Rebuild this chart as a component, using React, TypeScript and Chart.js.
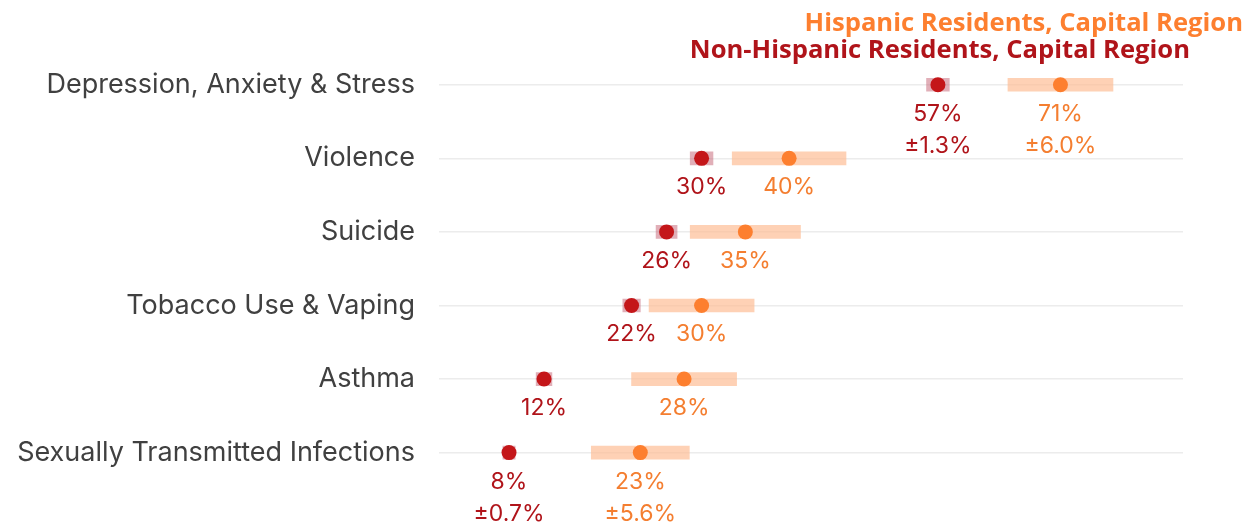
import React, { useEffect, useRef } from "react";
import { Chart, registerables } from "chart.js";

Chart.register(...registerables);

const categories = [
  "Depression, Anxiety & Stress",
  "Violence",
  "Suicide",
  "Tobacco Use & Vaping",
  "Asthma",
  "Sexually Transmitted Infections",
];
const hispanicValues = [71, 40, 35, 30, 28, 23];
const hispanicMargins = [6.0, 6.5, 6.3, 6.0, 6.0, 5.6];
const nonHispanicValues = [57, 30, 26, 22, 12, 8];
const nonHispanicMargins = [1.3, 1.3, 1.2, 1.0, 0.9, 0.7];
const showMarginLabel = [true, false, false, false, false, true];
const hispanicLabel = "Hispanic Residents, Capital Region";
const nonHispanicLabel = "Non-Hispanic Residents, Capital Region";

const ORANGE = "#fd7f2f";
const ORANGE_TEXT = "#f47e30";
const ORANGE_BAND = "rgba(253, 190, 150, 0.7)";
const RED = "#c41619";
const RED_TEXT = "#b0141a";
const RED_BAND = "rgba(200, 110, 125, 0.55)";
const FONT = "Inter, 'Noto Sans', sans-serif";

const labelPlugin = {
  id: "valueLabels",
  afterDatasetsDraw(chart: any) {
    const ctx = chart.ctx;
    ctx.save();
    ctx.textAlign = "center";
    ctx.textBaseline = "middle";
    ctx.font = `23px ${FONT}`;
    const defs = [
      { idx: 2, values: hispanicValues, margins: hispanicMargins, color: ORANGE_TEXT },
      { idx: 3, values: nonHispanicValues, margins: nonHispanicMargins, color: RED_TEXT },
    ];
    defs.forEach((d) => {
      const meta = chart.getDatasetMeta(d.idx);
      meta.data.forEach((pt: any, i: number) => {
        ctx.fillStyle = d.color;
        ctx.fillText(`${d.values[i]}%`, pt.x, pt.y + 29);
        if (showMarginLabel[i]) {
          ctx.fillText(`±${d.margins[i].toFixed(1)}%`, pt.x, pt.y + 61);
        }
      });
    });
    // legend text
    ctx.textAlign = "right";
    ctx.textBaseline = "alphabetic";
    ctx.font = `bold 25.6px 'Open Sans', 'Noto Sans', sans-serif`;
    ctx.fillStyle = ORANGE;
    ctx.fillText(hispanicLabel, 1243, 31);
    ctx.fillStyle = "#b0141a";
    ctx.fillText(nonHispanicLabel, 1190, 58);
    ctx.restore();
  },
};

export default function App() {
  const ref = useRef<HTMLCanvasElement | null>(null);
  useEffect(() => {
    document.body.style.margin = "0";
    const chart = new Chart(ref.current as HTMLCanvasElement, {
      type: "bar",
      data: {
        labels: categories,
        datasets: [
          {
            type: "bar",
            data: hispanicValues.map((v, i) => [v - hispanicMargins[i], v + hispanicMargins[i]]) as any,
            backgroundColor: ORANGE_BAND,
            barThickness: 13,
            grouped: false,
            order: 2,
          },
          {
            type: "bar",
            data: nonHispanicValues.map((v, i) => [v - nonHispanicMargins[i], v + nonHispanicMargins[i]]) as any,
            backgroundColor: RED_BAND,
            barThickness: 13,
            grouped: false,
            order: 2,
          },
          {
            type: "line",
            data: hispanicValues,
            showLine: false,
            pointRadius: 7.5,
            pointBackgroundColor: ORANGE,
            pointBorderWidth: 0,
            order: 0,
          } as any,
          {
            type: "line",
            data: nonHispanicValues,
            showLine: false,
            pointRadius: 7.5,
            pointBackgroundColor: RED,
            pointBorderWidth: 0,
            order: 0,
          } as any,
        ],
      },
      options: {
        indexAxis: "y",
        animation: false,
        responsive: false,
        layout: { padding: { left: 0, right: 72, top: 48, bottom: 32.6 } },
        plugins: { legend: { display: false }, tooltip: { enabled: false }, title: { display: false } },
        scales: {
          x: { type: "linear", min: 0, max: 85, display: false },
          y: {
            type: "category",
            offset: true,
            grid: {
              color: "#ececec",
              lineWidth: 1.5,
              drawTicks: true,
              tickLength: 24,
              tickColor: "rgba(0,0,0,0)",
              offset: false,
            },
            border: { display: false },
            ticks: { color: "#404040", font: { family: FONT, size: 27 }, padding: 0 },
            afterFit: (scale: any) => {
              scale.width = 439;
            },
          },
        },
      } as any,
      plugins: [labelPlugin],
    });
    return () => chart.destroy();
  }, []);
  return (
    <div style={{ position: "absolute", left: 0, top: 0, width: 1255, height: 522 }}>
      <canvas ref={ref} width={1255} height={522} style={{ width: 1255, height: 522 }} />
    </div>
  );
}
